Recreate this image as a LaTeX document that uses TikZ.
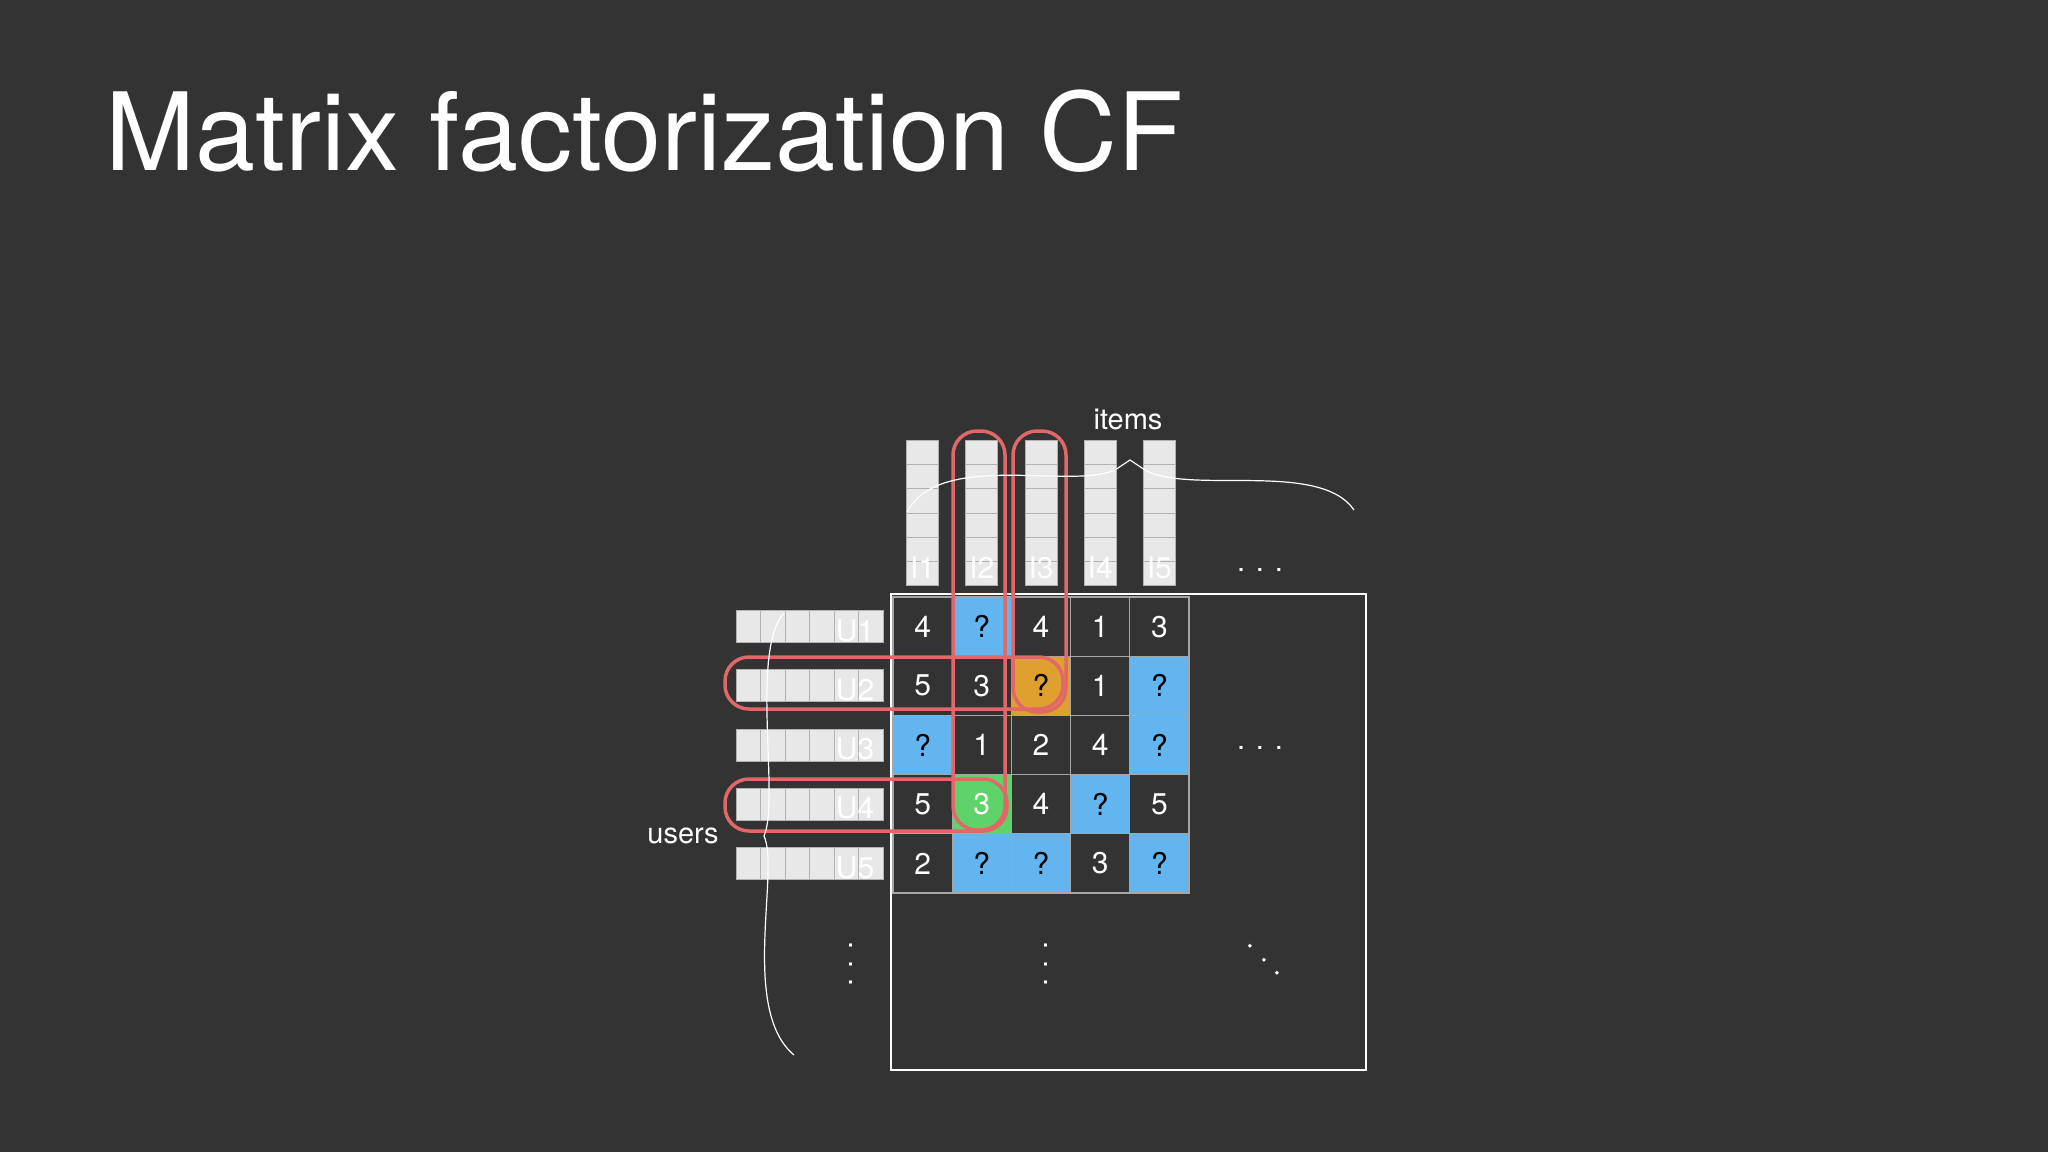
\documentclass[tikz,border=0pt]{standalone}
\usepackage{fontspec}
\setmainfont{TeX Gyre Heros}
\begin{document}
\begin{tikzpicture}[x=1pt,y=-1pt,
  cellbox/.style={draw=gray!70,line width=1.2pt,minimum size=59.2pt,inner sep=0pt,font=\fontsize{30}{30}\selectfont,text=white,fill=bgc},
  seg/.style={draw=gray!60,fill=vecc,line width=0.8pt},
  vlabel/.style={text=white,font=\fontsize{30}{30}\selectfont,inner sep=0pt},
  redbox/.style={draw=redc,line width=3.5pt,rounded corners=24pt},
  brace/.style={draw=white,line width=1.2pt},
  txt/.style={text=white,font=\fontsize{29}{29}\selectfont,inner sep=0pt}]
\definecolor{bgc}{HTML}{333333}
\definecolor{vecc}{HTML}{E8E8E8}
\definecolor{bluec}{HTML}{63B5F0}
\definecolor{orangec}{HTML}{E0A030}
\definecolor{greenc}{HTML}{5DD36A}
\definecolor{redc}{HTML}{E06868}
\def\tb{b}\def\to{o}\def\tg{g}
\fill[bgc] (0,0) rectangle (2048,1152);
\useasboundingbox (0,0) rectangle (2048,1152);
\node[anchor=base west,text=white,font=\fontsize{108}{108}\selectfont,inner sep=0pt] (title) at (105,170) {Matrix factorization CF};
% big matrix frame
\draw[white,line width=2.5pt] (891,594) rectangle (1366,1070);
% cells
\def\X{893}\def\Y{597}\def\S{59.2}
\foreach \r/\row in {1/{4/n,?/b,4/n,1/n,3/n},2/{5/n,3/n,?/o,1/n,?/b},3/{?/b,1/n,2/n,4/n,?/b},4/{5/n,3/g,4/n,?/b,5/n},5/{2/n,?/b,?/b,3/n,?/b}}{
  \foreach \v/\t [count=\c] in \row {
    \ifx\t\tb \def\fc{bluec}\def\tc{black}\else
    \ifx\t\to \def\fc{orangec}\def\tc{black}\else
    \ifx\t\tg \def\fc{greenc}\def\tc{white}\else
    \def\fc{bgc}\def\tc{white}\fi\fi\fi
    \node[cellbox,fill=\fc,text=\tc] (c\r\c) at ({\X+(\c-0.5)*\S},{\Y+(\r-0.5)*\S}) {\v};
  }
}
% item vectors
\foreach \c in {1,...,5}{
  \foreach \k in {0,...,5}{
    \draw[seg] ({\X+(\c-0.5)*\S-16},{440+\k*24.3}) rectangle ++(32,24.3);
  }
  \node[vlabel] (i\c) at ({\X+(\c-0.5)*\S},568) {I\c};
}
% user vectors
\foreach \r in {1,...,5}{
  \foreach \k in {0,...,5}{
    \draw[seg] ({736+\k*24.5},{\Y+(\r-0.5)*\S-16}) rectangle ++(24.5,32);
  }
  \node[vlabel] (u\r) at (855,{\Y+(\r-0.5)*\S+4}) {U\r};
}
% red highlights
\draw[redbox] (953,431) rectangle (1005,830);
\draw[redbox] (1013,431) rectangle (1066,712);
\draw[redbox] (725,657) rectangle (1063,709);
\draw[redbox] (725,779) rectangle (1007,831);
% braces
\coordinate (ib1) at (907,512);
\coordinate (ib2) at (1130,460);
\coordinate (ib3) at (1354,510);
\draw[brace] (ib1) .. controls (940,450) and (1070,490) .. (1115,470) -- (ib2) -- (1145,470) .. controls (1190,495) and (1320,460) .. (ib3);
\coordinate (ub1) at (784,613);
\coordinate (ub2) at (764,836);
\coordinate (ub3) at (794,1055);
\draw[brace] (ub1) .. controls (750,650) and (780,800) .. (ub2) .. controls (780,870) and (740,1010) .. (ub3);
\node[txt] (items) at (1128,419) {items};
\node[txt] (users) at (683,836) {users};
% ellipses
\node[txt] (d1) at (1260,570) {. . .};
\node[txt] (d2) at (1260,748) {. . .};
\node[txt,rotate=90] (d3) at (851,964) {. . .};
\node[txt,rotate=90] (d4) at (1046,964) {. . .};
\node[txt,rotate=-45] (d5) at (1264,960) {. . .};
\end{tikzpicture}
\end{document}
